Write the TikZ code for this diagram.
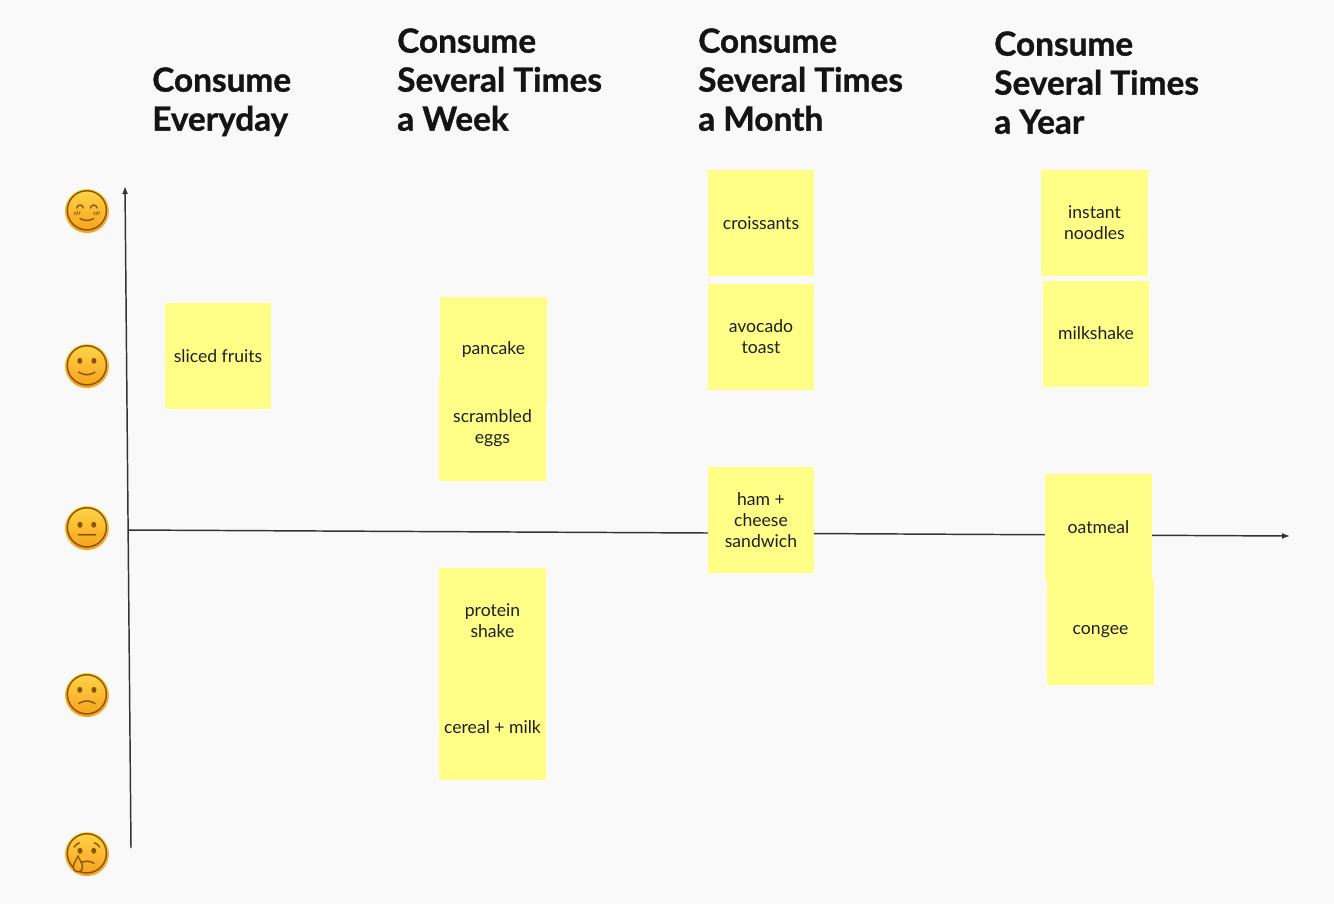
\documentclass[tikz,border=0pt]{standalone}
\usepackage{fontspec}
\setsansfont{Lato}[BoldFeatures={FakeBold=1}]
\newfontfamily\emojifont{Noto Emoji}
\usetikzlibrary{arrows.meta}

\definecolor{paper}{HTML}{F9F9F9}
\definecolor{notey}{HTML}{FFFF88}
\definecolor{axisgray}{HTML}{333333}
\definecolor{facetop}{HTML}{FFD54A}
\definecolor{facebot}{HTML}{F5A01A}
\definecolor{facebr}{HTML}{8A5200}

\tikzset{
  heading/.style={anchor=north west, inner sep=0pt, align=left, text=black!92,
    font=\sffamily\bfseries\fontsize{25}{29.25}\selectfont},
  note/.style={fill=notey, minimum width=80pt, minimum height=79.5pt, inner sep=0pt,
    align=center, text=black!88, font=\sffamily\fontsize{13.2}{15.75}\selectfont},
  axis/.style={draw=axisgray, line width=1.1pt, -{Latex[length=6pt,width=4.5pt]}},
  emoji/.style={inner sep=0pt, text=facebr, font=\emojifont\fontsize{30}{30}\selectfont}
}

\begin{document}
\begin{tikzpicture}[x=0.75pt,y=-0.75pt]
  \path[use as bounding box, fill=paper] (0,0) rectangle (1334,904);

  % headings
  \node[heading] (everyday) at (152,67) {Consume\\Everyday};
  \node[heading] (week) at (397,28) {Consume\\Several Times\\a Week};
  \node[heading] (month) at (698,28) {Consume\\Several Times\\a Month};
  \node[heading] (year) at (994,31) {Consume\\Several Times\\a Year};

  % mood scale
  \foreach \ey/\ec/\en in {211/1F60A/happy, 366/1F642/smile, 528/1F610/neutral,
                           695/1F641/frown, 854/1F622/cry} {
    \shade[top color=facetop, bottom color=facebot] (87,\ey) circle (16.5pt);
    \node[emoji] (\en) at (87,\ey) {\symbol{"\ec}};
  }

  % axes
  \coordinate (ybot) at (131,848);
  \coordinate (ytop) at (125,186);
  \coordinate (xleft) at (128,530);
  \coordinate (xright) at (1290,536);
  \draw[axis] (ybot) -- (ytop);
  \draw[axis] (xleft) -- (xright);

  % sticky notes
  \node[note] (fruits) at (218,356) {sliced fruits};

  \node[note] (pancake) at (493.5,350) {pancake};
  \node[note] (eggs) at (492.5,428) {scrambled\\eggs};
  \node[note] (protein) at (492.5,621) {protein\\shake};
  \node[note] (cereal) at (492.5,727) {cereal + milk};

  \node[note] (croissants) at (761,223) {croissants};
  \node[note] (avocado) at (761,337) {avocado\\toast};
  \node[note] (ham) at (761,520) {ham +\\cheese\\sandwich};

  \node[note] (noodles) at (1094.5,223) {instant\\noodles};
  \node[note] (milkshake) at (1096,333.5) {milkshake};
  \node[note] (oatmeal) at (1098.5,527) {oatmeal};
  \node[note] (congee) at (1100.5,632) {congee};
\end{tikzpicture}
\end{document}
